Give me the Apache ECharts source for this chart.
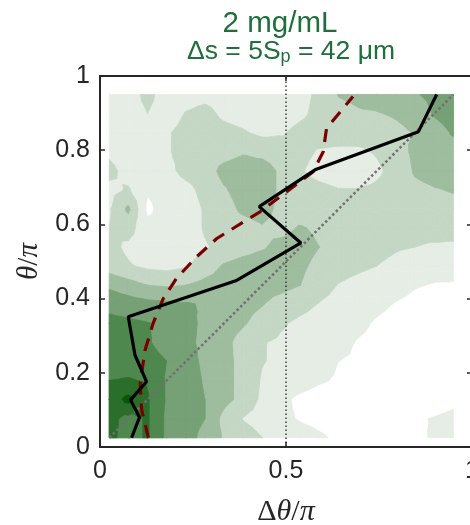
<!DOCTYPE html>
<html><head><meta charset="utf-8">
<script src="https://cdn.jsdelivr.net/npm/echarts@6/dist/echarts.min.js"></script>
<style>html,body{margin:0;padding:0;background:#fff}#c{width:470px;height:525px}</style>
</head><body><div id="c"></div>
<script>
// grid coordinates of the 2-D histogram (Δθ/π across, θ/π up)
const gridX = [0.025,0.076,0.128,0.179,0.231,0.282,0.333,0.385,0.436,0.488,0.539,0.590,0.642,0.693,0.744,0.796,0.847,0.899,0.950];
const gridY = [0.025,0.076,0.128,0.179,0.231,0.282,0.333,0.385,0.436,0.488,0.539,0.590,0.642,0.693,0.744,0.796,0.847,0.899,0.950];
// density rows, bottom (θ/π = 0.025) to top (θ/π = 0.95)
const density = [
 [6.2,5.7,6.1,4.8,4.4,3.7,2.9,2.5,2.0,1.8,1.5,1.15,0.8,0.6,0.5,0.5,0.8,1.1,1.3],
 [6.3,5.7,6.1,4.8,4.4,4.0,2.7,1.95,1.6,1.25,0.9,0.7,0.6,0.5,0.5,0.5,0.9,1.05,1.2],
 [6.4,7.3,6.1,4.9,4.5,4.0,3.3,2.7,1.8,1.2,0.8,0.6,0.5,0.4,0.4,0.4,0.45,0.6,0.8],
 [6.0,6.1,5.9,4.9,4.5,3.9,3.3,2.7,1.9,1.6,1.4,1.1,0.9,0.7,0.55,0.5,0.45,0.45,0.5],
 [5.4,5.5,5.4,5.0,4.4,3.8,3.3,2.7,2.05,1.8,1.6,1.3,1.0,0.9,0.75,0.6,0.5,0.5,0.5],
 [5.4,5.3,5.1,4.6,4.2,3.8,3.3,2.6,2.05,1.85,1.7,1.5,1.25,0.95,0.8,0.6,0.55,0.5,0.5],
 [5.3,5.2,5.05,4.7,4.3,3.8,3.5,3.1,2.6,2.1,1.8,1.6,1.4,1.2,0.9,0.7,0.6,0.5,0.5],
 [4.7,4.5,4.3,4.2,4.1,3.9,3.6,3.3,3.05,2.6,2.3,1.95,1.7,1.45,1.2,0.95,0.8,0.7,0.8],
 [3.8,3.4,3.0,2.9,3.0,3.3,3.4,3.5,3.4,3.3,3.0,2.4,1.95,1.7,1.5,1.3,1.05,0.95,0.95],
 [2.5,2.1,1.8,1.7,1.9,2.5,3.1,3.4,3.5,3.6,3.2,2.7,2.4,2.2,2.0,1.75,1.5,1.3,1.2],
 [2.3,1.8,1.4,1.3,1.5,1.9,2.3,2.6,2.9,3.3,3.4,3.0,2.6,2.4,2.3,2.1,2.0,1.8,1.7],
 [2.0,2.4,1.3,1.3,1.4,2.1,2.5,2.6,2.9,2.7,3.1,2.8,2.4,2.3,2.3,2.4,2.5,2.6,2.7],
 [1.9,3.2,0.8,1.4,1.5,2.1,2.6,3.2,3.4,2.7,2.4,2.3,2.2,2.2,2.3,2.5,2.6,2.7,2.8],
 [1.7,2.1,1.1,1.4,1.7,2.3,2.9,3.4,3.5,2.8,2.5,2.3,2.05,2.05,2.2,2.5,2.8,2.95,3.05],
 [2.3,1.6,1.3,1.7,2.3,2.5,3.3,3.5,3.5,2.8,2.1,1.6,1.4,1.4,1.8,2.4,3.1,3.3,3.4],
 [1.8,1.4,1.4,1.9,2.3,2.5,2.6,2.9,2.7,2.5,2.3,1.9,1.8,1.8,2.1,2.6,3.2,3.5,3.6],
 [1.5,1.4,1.4,1.9,2.3,2.5,2.3,2.1,1.8,1.9,2.3,2.5,2.5,2.5,2.6,2.8,3.05,3.6,4.1],
 [1.5,1.5,2.0,1.5,2.05,2.3,1.8,1.6,1.4,1.5,1.8,2.3,2.7,2.9,2.95,3.1,3.3,4.1,4.4],
 [1.5,1.5,2.3,1.5,1.6,1.7,1.6,1.5,1.5,1.5,1.7,2.2,3.05,3.2,3.4,3.6,3.9,4.3,4.6]
];
const levels = [1,2,3,4,5,6,7];
const levelColors = ['#e5ede5','#c4d7c4','#9ebc9e','#76a176','#4f884f','#2b6e2b','#0a560a'];
// mean curve (black)
const meanX = [0.085,0.106,0.082,0.125,0.094,0.076,0.365,0.540,0.428,0.578,0.856,0.905];
const meanY = [0.025,0.080,0.127,0.176,0.248,0.351,0.448,0.550,0.648,0.747,0.850,0.950];
// reference curve (dark red dashed)
const refX = [0.130,0.112,0.108,0.121,0.143,0.170,0.206,0.260,0.314,0.430,0.502,0.573,0.600,0.609,0.654,0.680];
const refY = [0.025,0.100,0.172,0.261,0.334,0.400,0.455,0.513,0.562,0.634,0.688,0.742,0.796,0.859,0.913,0.945];
// diagonal and mid line
const diagX = [0.025,0.95], diagY = [0.025,0.95];
const midX = [0.5,0.5], midY = [0,1];
const xTickStep = 0.5, yTickStep = 0.2;

const chart = echarts.init(document.getElementById('c'));

const cells = [];
for (let j = 0; j < gridY.length - 1; j++)
  for (let i = 0; i < gridX.length - 1; i++)
    cells.push([(gridX[i]+gridX[i+1])/2, (gridY[j]+gridY[j+1])/2, i, j]);

function clip(pts, vals, t) {
  const out = [];
  for (let a = 0; a < pts.length; a++) {
    const b = (a + 1) % pts.length;
    const va = vals[a], vb = vals[b];
    if (va >= t) out.push(pts[a]);
    if ((va >= t) !== (vb >= t)) {
      const f = (t - va) / (vb - va);
      out.push([pts[a][0] + f*(pts[b][0]-pts[a][0]), pts[a][1] + f*(pts[b][1]-pts[a][1])]);
    }
  }
  return out;
}

function levelSeries(k) {
  const t = levels[k], color = levelColors[k];
  return {
    type: 'custom', silent: true, animation: false, z: 1 + k*0.01,
    clip: true,
    encode: {x: 0, y: 1},
    data: cells,
    renderItem: function (params, api) {
      const i = api.value(2), j = api.value(3);
      const x0 = gridX[i], x1 = gridX[i+1], y0 = gridY[j], y1 = gridY[j+1];
      const v00 = density[j][i], v10 = density[j][i+1], v11 = density[j+1][i+1], v01 = density[j+1][i];
      const vc = (v00+v10+v11+v01)/4, xc = (x0+x1)/2, yc = (y0+y1)/2;
      const tris = [
        [[[x0,y0],[x1,y0],[xc,yc]],[v00,v10,vc]],
        [[[x1,y0],[x1,y1],[xc,yc]],[v10,v11,vc]],
        [[[x1,y1],[x0,y1],[xc,yc]],[v11,v01,vc]],
        [[[x0,y1],[x0,y0],[xc,yc]],[v01,v00,vc]]
      ];
      const children = [];
      tris.forEach(function (tr) {
        const poly = clip(tr[0], tr[1], t);
        if (poly.length >= 3) {
          children.push({
            type: 'polygon',
            shape: {points: poly.map(p => api.coord(p))},
            style: {fill: color, stroke: color, lineWidth: 0.7}
          });
        }
      });
      return {type: 'group', children: children};
    }
  };
}

const axisColor = '#262626';
const font = 'Liberation Sans, Arial, Helvetica, sans-serif';
const serif = 'Liberation Serif, DejaVu Serif, serif';
const titleColor = '#1f6e3c';

const series = levels.map((_, k) => levelSeries(k));
series.push({
  type: 'line', data: midX.map((x, i) => [x, midY[i]]), symbol: 'none', silent: true, animation: false, z: 3,
  lineStyle: {color: '#222', width: 1.3, type: [1.5, 2.5]}
});
series.push({
  type: 'line', data: diagX.map((x, i) => [x, diagY[i]]), symbol: 'none', silent: true, animation: false, z: 4,
  lineStyle: {color: '#707070', width: 2.5, type: [2.5, 2.5]}
});
series.push({
  type: 'line', data: refX.map((x, i) => [x, refY[i]]), symbol: 'none', silent: true, animation: false, z: 5,
  lineStyle: {color: '#7a0000', width: 3.2, type: [13, 9]}
});
series.push({
  type: 'line', data: meanX.map((x, i) => [x, meanY[i]]), symbol: 'none', silent: true, animation: false, z: 6,
  lineStyle: {color: '#000', width: 3.2}
});

function axisBase(extra) {
  return Object.assign({
    type: 'value', min: 0, max: 1,
    axisLine: {show: true, onZero: false, lineStyle: {color: axisColor, width: 2}},
    axisTick: {show: true, inside: true, length: 5, lineStyle: {color: axisColor, width: 1.5}},
    splitLine: {show: false},
    axisLabel: {show: false}
  }, extra);
}

chart.setOption({
  animation: false,
  backgroundColor: '#fff',
  title: [
    {text: '2 mg/mL', left: 275, top: 4, textAlign: 'center',
     textStyle: {color: titleColor, fontSize: 29.5, fontWeight: 'normal', fontFamily: font}},
    {text: 'Δs = 5S{p|p} = 42 μm', left: 286, top: 33, textAlign: 'center',
     textStyle: {color: titleColor, fontSize: 26.5, fontWeight: 'normal', fontFamily: font,
       rich: {p: {color: titleColor, fontSize: 18, fontFamily: font, padding: [10, 0, 0, 0]}}}}
  ],
  grid: {left: 100, top: 76, width: 372, height: 371, containLabel: false, outerBoundsMode: 'none'},
  xAxis: [
    axisBase({position: 'bottom', interval: xTickStep,
      axisLabel: {show: true, fontSize: 25, color: axisColor, fontFamily: font, margin: 12,
        showMinLabel: true, showMaxLabel: true, hideOverlap: false},
      name: '{u|Δ}{i|θ}{u|/}{i|π}', nameLocation: 'middle', nameGap: 50,
      nameTextStyle: {rich: {
        u: {fontSize: 30, color: axisColor, fontFamily: serif},
        i: {fontSize: 30, color: axisColor, fontStyle: 'italic', fontFamily: serif}}}
    }),
    axisBase({position: 'top', interval: xTickStep})
  ],
  yAxis: [
    axisBase({position: 'left', interval: yTickStep,
      axisLabel: {show: true, fontSize: 25, color: axisColor, fontFamily: font, margin: 10,
        showMinLabel: true, showMaxLabel: true},
      name: '{i|θ}{u|/}{i|π}', nameLocation: 'middle', nameGap: 52, nameRotate: 90,
      nameTextStyle: {rich: {
        u: {fontSize: 29, color: axisColor, fontFamily: serif},
        i: {fontSize: 29, color: axisColor, fontStyle: 'italic', fontFamily: serif}}}
    }),
    axisBase({position: 'right', interval: yTickStep})
  ],
  series: series
});
</script></body></html>
